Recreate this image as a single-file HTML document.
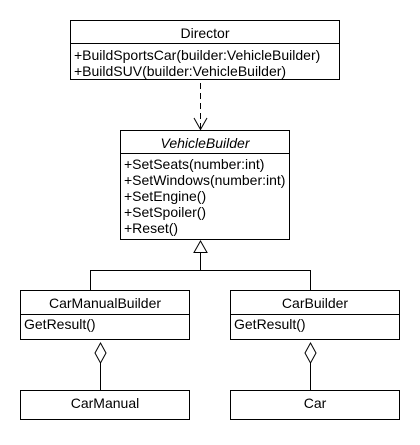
<!DOCTYPE html>
<html><head><style>
body{margin:0;background:#fff;}
svg text{font-family:"Liberation Sans",Arial,sans-serif;font-size:14px;fill:#000;}
</style></head><body>
<svg width="420" height="440" xmlns="http://www.w3.org/2000/svg">
<g fill="none" stroke="#000" stroke-width="1">
<rect x="70.5" y="20.5" width="269" height="59"/>
<line x1="70" y1="43.5" x2="340" y2="43.5"/>
<line x1="200.5" y1="83" x2="200.5" y2="129" stroke-dasharray="6,4"/>
<polyline points="194,118 200.5,129.5 207,118"/>
<rect x="120.5" y="130.5" width="169" height="109"/>
<line x1="120" y1="153.5" x2="290" y2="153.5"/>
<polygon points="200.5,241 194,252.5 207,252.5"/>
<line x1="200.5" y1="252.5" x2="200.5" y2="270.5"/>
<polyline points="90.5,290 90.5,270.5 310.5,270.5 310.5,290"/>
<rect x="20.5" y="290.5" width="169" height="49"/>
<line x1="20" y1="314.5" x2="190" y2="314.5"/>
<rect x="230.5" y="290.5" width="169" height="49"/>
<line x1="230" y1="314.5" x2="400" y2="314.5"/>
<polygon points="100.5,343 106,353 100.5,363 95,353"/>
<line x1="100.5" y1="363" x2="100.5" y2="390"/>
<polygon points="310.5,343 316,353 310.5,363 305,353"/>
<line x1="310.5" y1="363" x2="310.5" y2="390"/>
<rect x="20.5" y="390.5" width="169" height="29"/>
<rect x="230.5" y="390.5" width="169" height="29"/>
</g>
<text x="205" y="38" text-anchor="middle">Director</text>
<text x="74" y="60">+BuildSportsCar(builder:VehicleBuilder)</text>
<text x="74" y="76">+BuildSUV(builder:VehicleBuilder)</text>
<text x="205" y="148" text-anchor="middle" font-style="italic">VehicleBuilder</text>
<text x="124" y="169">+SetSeats(number:int)</text>
<text x="124" y="185">+SetWindows(number:int)</text>
<text x="124" y="201">+SetEngine()</text>
<text x="124" y="217">+SetSpoiler()</text>
<text x="124" y="233">+Reset()</text>
<text x="105" y="308" text-anchor="middle">CarManualBuilder</text>
<text x="24" y="329">GetResult()</text>
<text x="315" y="308" text-anchor="middle">CarBuilder</text>
<text x="234" y="329">GetResult()</text>
<text x="105" y="408" text-anchor="middle">CarManual</text>
<text x="315" y="408" text-anchor="middle">Car</text>
</svg>
</body></html>
